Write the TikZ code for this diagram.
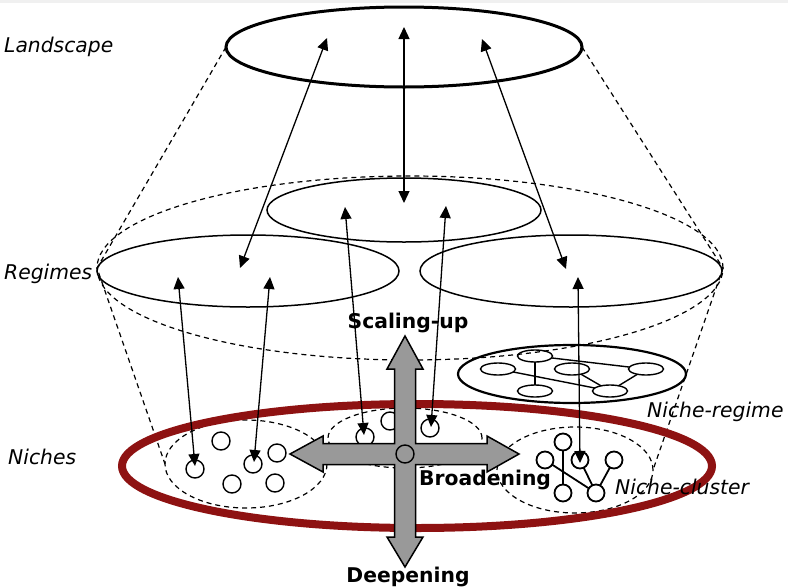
\documentclass[tikz,border=0pt]{standalone}
\usepackage{fontspec}
\setmainfont{DejaVu Sans}
\usetikzlibrary{shapes.geometric,arrows.meta}
\definecolor{nred}{RGB}{142,18,18}
\definecolor{xgray}{RGB}{153,153,153}
\begin{document}
\begin{tikzpicture}[x=1pt,y=-1pt,
  ell/.style={ellipse,draw,inner sep=0pt,outer sep=0pt},
  dsh/.style={draw,dash pattern=on 5pt off 4pt,line width=1.2pt},
  ring/.style={circle,draw,line width=1.4pt,minimum size=18pt,inner sep=0pt,outer sep=0pt},
  cring/.style={circle,draw,line width=1.8pt,minimum size=17pt,inner sep=0pt,outer sep=0pt},
  sell/.style={ellipse,draw,line width=1.4pt,minimum width=35pt,minimum height=12pt,inner sep=0pt,outer sep=0pt},
  link/.style={line width=1.4pt},
  clink/.style={line width=1.8pt},
  dbl/.style={line width=1.3pt,{Triangle[length=12pt,width=11pt]}-{Triangle[length=12pt,width=11pt]}},
  lbl/.style={font=\fontsize{20.3}{24}\selectfont\itshape,anchor=base west,inner sep=0pt},
  blbl/.style={font=\fontsize{20.3}{24}\selectfont\bfseries,anchor=base,inner sep=0pt}]
\useasboundingbox (0,0) rectangle (788,587);
\fill[gray!12] (0,0) rectangle (788,3);

% dashed envelopes
\node[ell,dsh,minimum width=626pt,minimum height=184pt] (regcone) at (410,268) {};
\node[ell,dsh,minimum width=162pt,minimum height=88pt] (nicheL) at (246,464) {};
\node[ell,dsh,minimum width=154pt,minimum height=60pt] (nicheM) at (405,438) {};
\node[ell,dsh,minimum width=156pt,minimum height=86pt] (nicheC) at (575,470) {};

% landscape and regimes
\node[ell,line width=3pt,minimum width=356pt,minimum height=80pt] (land) at (404,47) {};
\node[ell,line width=1.5pt,minimum width=274pt,minimum height=64pt] (regT) at (404,210) {};
\node[ell,line width=1.5pt,minimum width=302pt,minimum height=72pt] (regL) at (248,271) {};
\node[ell,line width=1.5pt,minimum width=302pt,minimum height=72pt] (regR) at (571,271) {};

\draw[dsh] (land.west) -- (regcone.west) -- (nicheL.west);
\draw[dsh] (land.east) -- (regcone.east) -- (nicheC.east);

% niche-regime
\node[ell,line width=2.2pt,minimum width=228pt,minimum height=58pt] (nr) at (572,374) {};
\node[sell] (nr1) at (535,356) {};
\node[sell] (nr2) at (498,369) {};
\node[sell] (nr3) at (572,369) {};
\node[sell] (nr4) at (646,369) {};
\node[sell] (nr5) at (535,391) {};
\node[sell] (nr6) at (610,391) {};
\draw[link] (nr1) -- (nr5);
\draw[link] (nr1) -- (nr4);
\draw[link] (nr2) -- (nr6);
\draw[link] (nr3) -- (nr6);
\draw[link] (nr4) -- (nr6);

% red niche band
\node[ell,draw=nred,line width=8pt,minimum width=590pt,minimum height=124pt] (red) at (417,466) {};

% left niche circles
\node[ring] (l1) at (195,469) {};
\node[ring] (l2) at (221,441) {};
\node[ring] (l3) at (253,464) {};
\node[ring] (l4) at (277,453) {};
\node[ring] (l5) at (232,484) {};
\node[ring] (l6) at (275,483) {};

% middle niche circles
\node[ring] (m1) at (365,437) {};
\node[ring] (m2) at (390,421) {};
\node[ring] (m3) at (430,428) {};

% niche-cluster
\node[cring] (c1) at (563,442) {};
\node[cring] (c2) at (545,460) {};
\node[cring] (c3) at (580,460) {};
\node[cring] (c4) at (614,460) {};
\node[cring] (c5) at (563,493) {};
\node[cring] (c6) at (596,493) {};
\draw[clink] (c1) -- (c5);
\draw[clink] (c2) -- (c6);
\draw[clink] (c3) -- (c6);
\draw[clink] (c4) -- (c6);

% arrow end points
\coordinate (a1s) at (327,38);  \coordinate (a1e) at (240,268);
\coordinate (a2s) at (404,27);  \coordinate (a2e) at (404,203);
\coordinate (a3s) at (482,39);  \coordinate (a3e) at (566,269);
\coordinate (a4s) at (178,277); \coordinate (a4e) at (195,466);
\coordinate (a5s) at (270,277); \coordinate (a5e) at (254,462);
\coordinate (a6s) at (345,207); \coordinate (a6e) at (364,435);
\coordinate (a7s) at (446,206); \coordinate (a7e) at (431,427);
\coordinate (a8s) at (578,277); \coordinate (a8e) at (580,463);
\foreach \i in {1,...,8} \draw[dbl] (a\i s) -- (a\i e);

% cross arrow
\draw[line width=1.5pt,fill=xgray,line join=miter]
  (405,336) -- (423,369) -- (415.5,369) -- (415.5,443.5) -- (487,443.5) -- (487,436)
  -- (519,454) -- (487,472) -- (487,464.5) -- (415.5,464.5) -- (415.5,537) -- (423,537)
  -- (405,567) -- (387,537) -- (394.5,537) -- (394.5,464.5) -- (323,464.5) -- (323,472)
  -- (290,454) -- (323,436) -- (323,443.5) -- (394.5,443.5) -- (394.5,369) -- (387,369) -- cycle;
\node[ring] (mc) at (405,454) {};

% labels
\node[lbl] (tland) at (4,52) {Landscape};
\node[lbl] (treg) at (4,279) {Regimes};
\node[lbl] (tni) at (8,464) {Niches};
\node[lbl] (tnr) at (647,417) {Niche-regime};
\node[lbl] (tnc) at (615,494) {Niche-cluster};
\node[blbl] (tsu) at (408,328) {Scaling-up};
\node[blbl,anchor=base west] (tbr) at (419,485) {Broadening};
\node[blbl] (tde) at (408,582) {Deepening};
\end{tikzpicture}
\end{document}
